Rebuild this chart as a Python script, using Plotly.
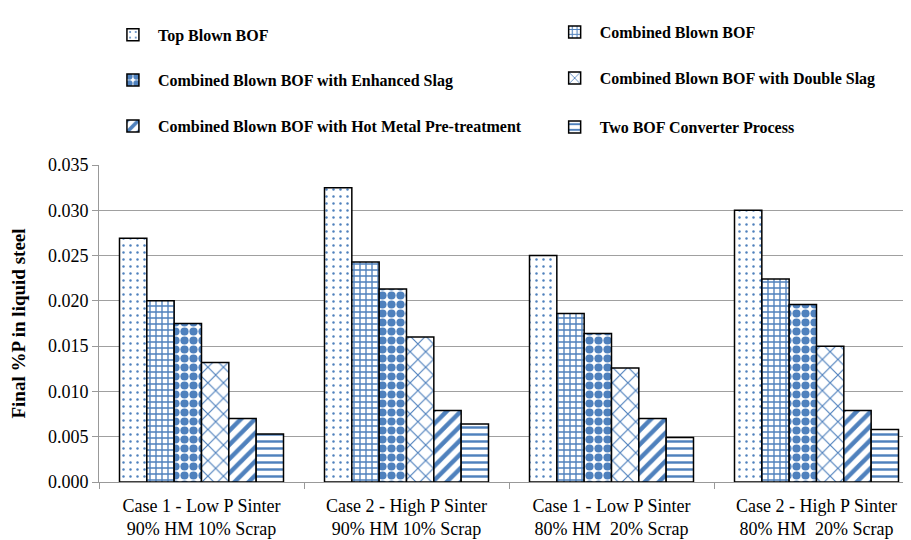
import plotly.graph_objects as go

categories = [
    "Case 1 - Low P Sinter<br>90% HM 10% Scrap",
    "Case 2 - High P Sinter<br>90% HM 10% Scrap",
    "Case 1 - Low P Sinter<br>80% HM\u00a0 20% Scrap",
    "Case 2 - High P Sinter<br>80% HM\u00a0 20% Scrap",
]
series_names = [
    "Top Blown BOF",
    "Combined Blown BOF",
    "Combined Blown BOF with Enhanced Slag",
    "Combined Blown BOF with Double Slag",
    "Combined Blown BOF with Hot Metal Pre-treatment",
    "Two BOF Converter Process",
]
top_blown = [0.0269, 0.0325, 0.0250, 0.0300]
combined = [0.0200, 0.0243, 0.0186, 0.0224]
enhanced_slag = [0.0175, 0.0213, 0.0164, 0.0196]
double_slag = [0.0132, 0.0160, 0.0126, 0.0150]
hot_metal = [0.0070, 0.0079, 0.0070, 0.0079]
two_bof = [0.0053, 0.0064, 0.0049, 0.0058]
values = [top_blown, combined, enhanced_slag, double_slag, hot_metal, two_bof]

blue = "#4F81BD"
patterns = [
    dict(shape=".", size=7, solidity=0.1),
    dict(shape="+", size=6, solidity=0.4),
    dict(shape=".", size=9, solidity=0.65),
    dict(shape="x", size=11, solidity=0.2),
    dict(shape="/", size=10, solidity=0.45),
    dict(shape="-", size=7, solidity=0.35),
]
legend_ids = ["legend", "legend2", "legend3", "legend4", "legend5", "legend6"]
# legend placement (paper coords): left column / right column, three rows
legend_x = [0.011, 0.555, 0.011, 0.555, 0.011, 0.555]
legend_y = [1.406, 1.415, 1.264, 1.270, 1.119, 1.116]

fig = go.Figure()
for name, vals, pat, lg in zip(series_names, values, patterns, legend_ids):
    fig.add_trace(go.Bar(
        x=categories, y=vals, name=name, legend=lg, showlegend=True,
        marker=dict(color="white", line=dict(color="black", width=1.5),
                    pattern=dict(fgcolor=blue, bgcolor="white", fillmode="overlay",
                                 fgopacity=1, **pat)),
    ))

serif = "Liberation Serif, Times New Roman, serif"
legend_font = dict(family=serif, size=16, color="black", weight="bold")
legends = {}
for lg, lx, ly in zip(legend_ids, legend_x, legend_y):
    legends[lg] = dict(orientation="h", x=lx, xanchor="left", y=ly, yanchor="middle",
                       font=legend_font, bgcolor="rgba(0,0,0,0)", itemwidth=40,
                       visible=True)

fig.update_layout(
    width=911, height=540,
    showlegend=True,
    margin=dict(l=91, r=8, t=156, b=66),
    paper_bgcolor="white", plot_bgcolor="white",
    barmode="group", bargap=0.2, bargroupgap=0,
    font=dict(family=serif, color="black"),
    xaxis=dict(type="category", range=[-0.5, 3.461], showline=True, linecolor="#999999",
               linewidth=1, ticks="outside", tickson="boundaries", ticklen=6,
               tickcolor="#999999", tickfont=dict(size=18, family=serif),
               ticklabelstandoff=7, showgrid=False, automargin=False),
    yaxis=dict(range=[0, 0.035], dtick=0.005, tickformat=".3f", showline=True,
               linecolor="#999999", linewidth=1, ticks="outside", ticklen=6,
               tickcolor="#999999", showgrid=True, gridcolor="#a0a0a0", gridwidth=1,
               tickfont=dict(size=18, family=serif), zeroline=False, automargin=False,
               title=dict(text="Final %P in liquid steel", standoff=18,
                          font=dict(size=19, family=serif, weight="bold"))),
    **legends,
)

fig.write_html("out.html")
